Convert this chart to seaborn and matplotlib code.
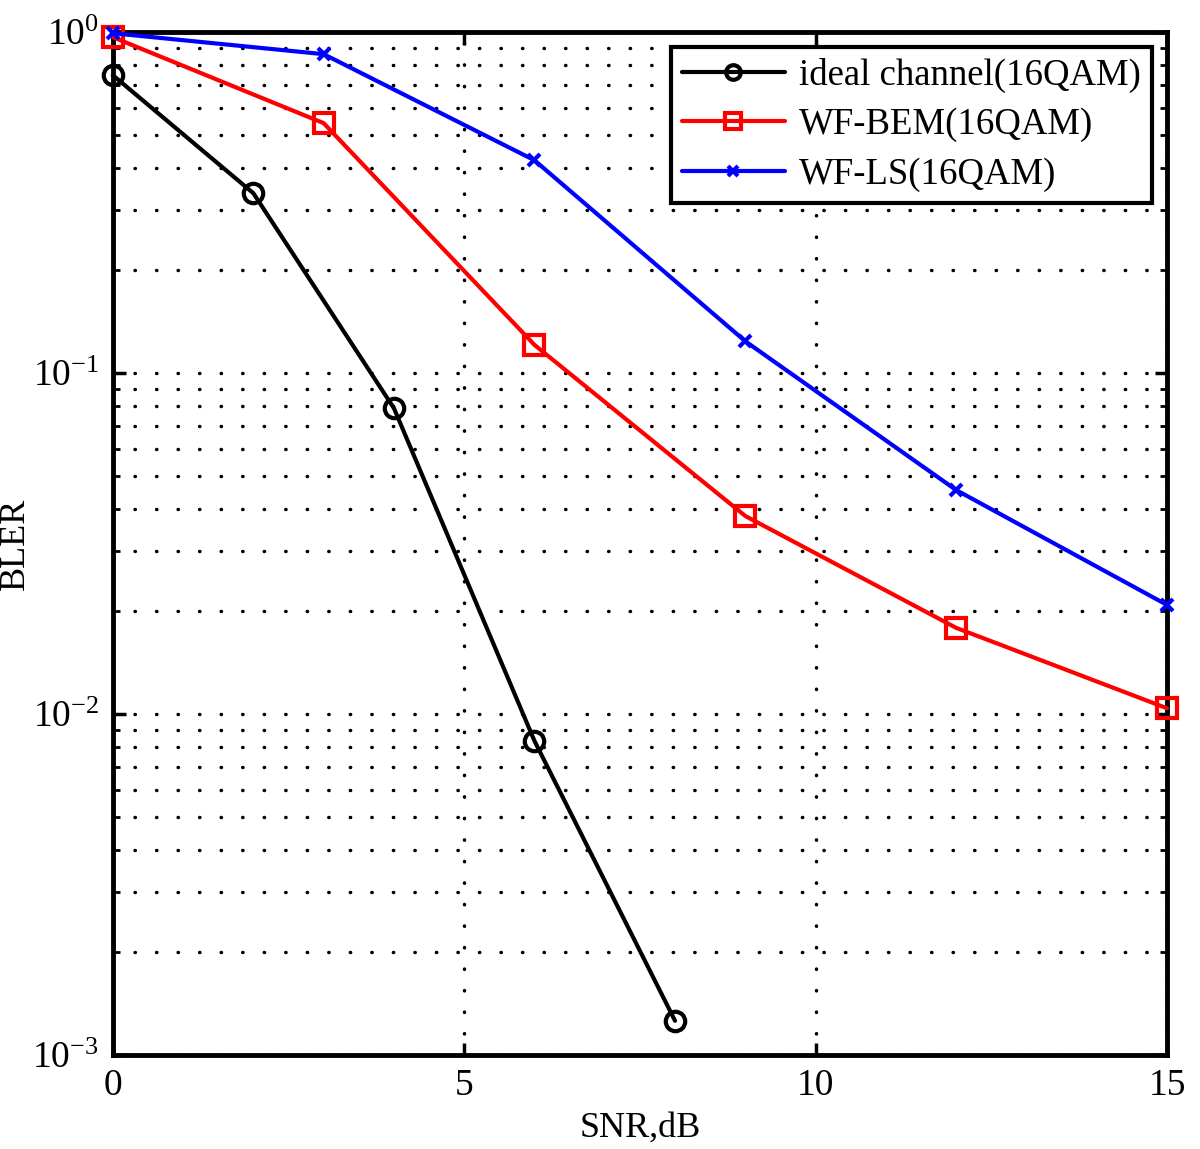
import numpy as np
import pandas as pd
import seaborn as sns
import matplotlib.pyplot as plt
from matplotlib.ticker import LogLocator, NullFormatter, FixedLocator

# data
snr_ideal = [0, 2, 4, 6, 8]
bler_ideal = [0.748, 0.337, 0.0789, 0.00834, 0.00126]

snr_wf = [0, 3, 6, 9, 12, 15]
bler_bem = [0.967, 0.541, 0.121, 0.0381, 0.0179, 0.0104]
bler_ls = [0.993, 0.862, 0.421, 0.124, 0.0454, 0.0209]

labels = ["ideal channel(16QAM)", "WF-BEM(16QAM)", "WF-LS(16QAM)"]
colors = ["black", "#ff0000", "#0000ff"]
markers = ["o", "s", "x"]
msizes = [14, 15, 9]

sns.set_style("ticks")
plt.rcParams['font.family'] = ['Liberation Serif', 'DejaVu Serif']
plt.rcParams['mathtext.fontset'] = 'stix'
plt.rcParams['axes.unicode_minus'] = False

fig = plt.figure(figsize=(12, 11.49), dpi=100)
ax = fig.add_axes([0.094, 0.0818, 0.8785, 0.8902])

frames = [
    pd.DataFrame({"snr": snr_ideal, "bler": bler_ideal}),
    pd.DataFrame({"snr": snr_wf, "bler": bler_bem}),
    pd.DataFrame({"snr": snr_wf, "bler": bler_ls}),
]
for df, lab, c, m, ms in zip(frames, labels, colors, markers, msizes):
    sns.lineplot(data=df, x="snr", y="bler", ax=ax, color=c, label=lab,
                 marker=m, markersize=ms, markerfacecolor="none",
                 markeredgecolor=c, markeredgewidth=3, linewidth=3,
                 clip_on=False, zorder=5)

ax.set_yscale("log")
ax.set_xlim(0, 15)
ax.set_ylim(1e-3, 1)
ax.xaxis.set_major_locator(FixedLocator([0, 5, 10, 15]))
ax.yaxis.set_major_locator(LogLocator(base=10, numticks=10))
ax.yaxis.set_minor_locator(LogLocator(base=10, subs=np.arange(2, 10), numticks=20))
ax.yaxis.set_minor_formatter(NullFormatter())

grid_ls = (0, (0.1, 6.1))
ax.grid(True, which="major", axis="both", color="black", linestyle=grid_ls,
        linewidth=2.5, dash_capstyle="round")
ax.grid(True, which="minor", axis="y", color="black", linestyle=grid_ls,
        linewidth=2.5, dash_capstyle="round")

ax.tick_params(axis="both", which="major", direction="in", length=9, width=2.5,
               top=True, right=True, labelsize=27, pad=10, color="black",
               labelcolor="black")
ax.tick_params(axis="y", which="minor", direction="in", length=5, width=2,
               right=True, left=True, color="black")
for s in ax.spines.values():
    s.set_linewidth(3.5)
    s.set_color("black")
    s.set_visible(True)

ax.set_xlabel("SNR,dB", fontsize=26, labelpad=6, color="black")
ax.set_ylabel("BLER", fontsize=26, color="black")
ax.yaxis.set_label_coords(-0.077, 0.5)

leg = ax.legend(loc="upper right", fontsize=26.5, frameon=True, fancybox=False,
                borderaxespad=0.4, handlelength=2.8, labelspacing=0.4,
                borderpad=0.3, handletextpad=0.4)
leg.get_frame().set_edgecolor("black")
leg.get_frame().set_linewidth(3)
leg.get_frame().set_alpha(1)
for t in leg.get_texts():
    t.set_color("black")
for h in leg.legend_handles:
    h.set_markersize(h.get_markersize() * 0.75)

fig.savefig("out.png", dpi=100, facecolor="white")
